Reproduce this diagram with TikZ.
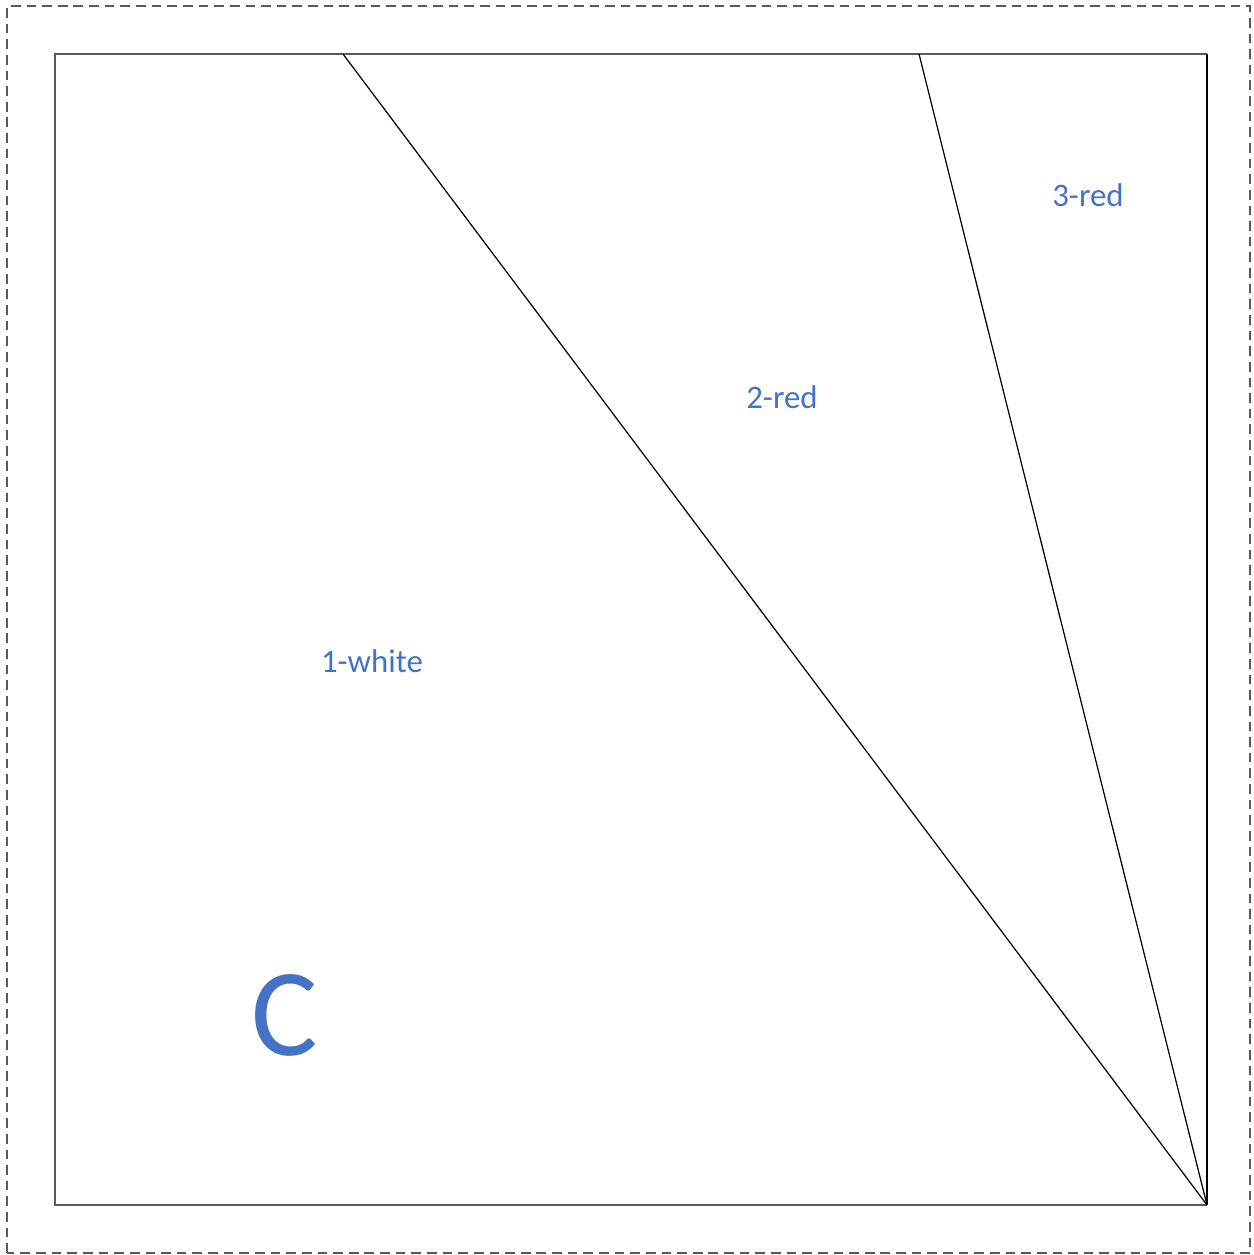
\documentclass[tikz,border=0pt]{standalone}
\usepackage{fontspec}
\setmainfont{Carlito}
\usetikzlibrary{positioning}
\definecolor{offblue}{RGB}{68,114,196}
\definecolor{framegray}{RGB}{89,89,89}
\begin{document}
\begin{tikzpicture}[x=0.02cm,y=0.02cm,lbl/.style={text=offblue,inner sep=0pt,font=\fontsize{18.7}{22}\selectfont},edge/.style={draw=black,line width=.7pt}]
\useasboundingbox (0,0) rectangle (1254,1255);
\draw[framegray,line width=.75pt,dash pattern=on 5.5pt off 3.4pt] (7,2) rectangle (1250,1249);

\coordinate (sw) at (55,50);
\coordinate (se) at (1207,50);
\coordinate (ne) at (1207,1201);
\coordinate (nw) at (55,1201);
\coordinate (p1) at (343,1201);
\coordinate (p2) at (919,1201);
\draw[framegray,line width=.7pt] (se)--(sw)--(nw)--(ne);
\draw[edge] (ne)--(se);
\draw[edge] (p1)--(se);\draw[edge] (p2)--(se);

\node[lbl] (r3) at (1088,1060) {3-red};
\node[lbl] (r2) at (782,858) {2-red};
\node[lbl] (w1) at (372,594) {1-white};
\node[lbl,font=\fontsize{71}{80}\selectfont] (c) at (285,240) {C};
\end{tikzpicture}
\end{document}
